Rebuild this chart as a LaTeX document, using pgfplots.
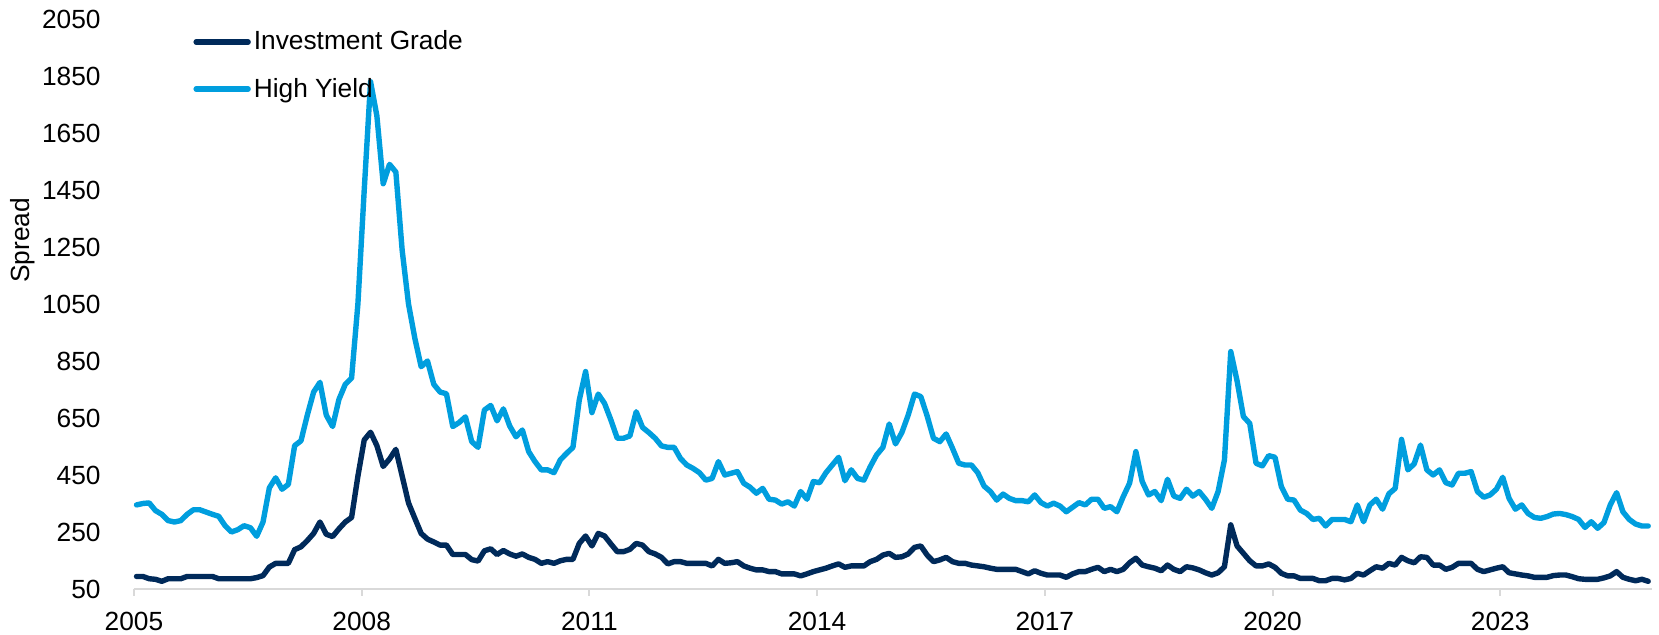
\documentclass[border=0pt]{standalone}
\usepackage{fontspec}
\setmainfont{Liberation Sans}
\usepackage{pgfplots}
\usepackage{pgfplotstable}
\pgfplotsset{compat=1.18}
\definecolor{igcol}{RGB}{0,42,90}
\definecolor{hycol}{RGB}{0,158,222}
\definecolor{axgray}{RGB}{217,217,217}
\pgfplotstableread{
k ig hy
0 94 345
1 94 350
2 86 352
3 84 325
4 77 312
5 86 290
6 86 285
7 86 290
8 94 312
9 94 328
10 94 328
11 94 320
12 94 312
13 86 305
14 86 272
15 86 250
16 86 258
17 86 272
18 86 265
19 90 235
20 97 285
21 127 405
22 140 440
23 140 400
24 140 417
25 188 553
26 198 570
27 220 660
28 245 741
29 285 775
30 242 660
31 234 620
32 261 715
33 285 768
34 301 790
35 446 1050
36 573 1450
37 600 1830
38 553 1710
39 480 1472
40 506 1540
41 540 1513
42 446 1238
43 352 1050
44 298 930
45 245 830
46 225 850
47 215 768
48 204 741
49 204 735
50 171 620
51 171 634
52 171 654
53 153 567
54 148 547
55 184 678
56 191 694
57 171 640
58 185 682
59 173 622
60 165 584
61 173 608
62 161 532
63 154 497
64 140 468
65 146 468
66 140 458
67 149 503
68 154 526
69 154 547
70 210 713
71 236 813
72 201 669
73 245 734
74 236 701
75 208 643
76 181 579
77 181 579
78 189 587
79 210 672
80 204 617
81 181 599
82 173 579
83 161 552
84 138 547
85 146 547
86 146 508
87 140 485
88 140 473
89 140 458
90 140 432
91 131 438
92 154 497
93 140 450
94 142 456
95 146 462
96 131 421
97 123 407
98 117 386
99 117 403
100 111 365
101 111 362
102 103 348
103 103 356
104 103 341
105 96 392
106 103 365
107 111 427
108 117 423
109 123 458
110 131 485
111 138 512
112 126 430
113 131 468
114 131 438
115 131 432
116 146 479
117 154 520
118 169 547
119 175 629
120 161 559
121 163 599
122 173 660
123 196 734
124 201 725
125 169 657
126 146 579
127 152 567
128 161 594
129 146 544
130 140 491
131 140 485
132 134 485
133 131 458
134 128 411
135 123 392
136 119 362
137 119 383
138 119 368
139 119 360
140 111 360
141 103 356
142 114 380
143 105 353
144 99 341
145 99 351
146 99 341
147 91 321
148 103 337
149 111 353
150 111 345
151 119 365
152 126 365
153 111 333
154 119 339
155 111 321
156 119 374
157 142 421
158 158 532
159 134 427
160 128 380
161 123 392
162 114 360
163 134 435
164 119 376
165 111 368
166 128 400
167 124 376
168 117 392
169 107 365
170 99 333
171 107 392
172 128 503
173 275 883
174 201 780
175 175 655
176 149 631
177 131 491
178 131 482
179 138 518
180 126 512
181 105 409
182 96 365
183 96 362
184 87 327
185 87 315
186 87 294
187 79 298
188 79 271
189 87 294
190 87 294
191 82 294
192 87 286
193 105 345
194 99 286
195 114 345
196 128 365
197 123 330
198 140 384
199 134 403
200 161 575
201 149 468
202 142 489
203 163 555
204 161 468
205 134 450
206 134 468
207 119 423
208 126 415
209 140 456
210 140 456
211 140 462
212 119 392
213 111 372
214 117 380
215 123 400
216 128 442
217 107 368
218 103 330
219 99 345
220 96 315
221 91 301
222 91 298
223 91 304
224 97 313
225 99 315
226 99 311
227 93 304
228 86 294
229 84 266
230 84 286
231 84 263
232 89 283
233 96 345
234 111 388
235 91 321
236 84 294
237 79 278
238 84 271
239 77 271
}\spreads
\begin{document}
\begin{tikzpicture}
\useasboundingbox (0,0) rectangle (829.5pt,317.5pt);
\begin{axis}[
  at={(67pt,23pt)}, anchor=south west,
  scale only axis, width=759pt, height=285pt,
  xmin=-0.4, xmax=239.6, ymin=50, ymax=2050,
  clip=false,
  axis x line*=bottom, axis y line*=left,
  x axis line style={draw=axgray, line width=1pt, -},
  y axis line style={draw=none},
  xtick={-0.4,35.6,71.6,107.6,143.6,179.6,215.6},
  xticklabels={2005,2008,2011,2014,2017,2020,2023},
  ytick={50,250,...,2050},
  tick align=outside,
  major tick length=3.5pt,
  xtick style={draw=axgray, line width=1pt},
  ytick style={draw=none},
  /pgf/number format/assume math mode=true,
  /pgf/number format/set thousands separator={},
  tick label style={font=\fontsize{13.15pt}{15.8pt}\selectfont},
  yticklabel style={anchor=east, inner sep=0pt, xshift=-13pt},
  xticklabel style={anchor=north, inner sep=0pt, yshift=-8pt},
  ylabel={Spread},
  ylabel style={font=\fontsize{13.15pt}{15.8pt}\selectfont, at={(axis description cs:-0.0731,0.612)}, anchor=center},
  legend style={draw=none, fill=none, at={(axis description cs:0.0389,0.985)}, anchor=north west,
    font=\fontsize{13.15pt}{15.8pt}\selectfont, row sep=9.5pt, inner sep=0pt,
    nodes={inner sep=1.5pt}},
  legend cell align=left,
  legend image code/.code={\draw[#1, line cap=round] (0pt,0pt) -- (26pt,0pt);},
  every axis plot/.append style={line width=2.7pt, line join=round, line cap=round},
]
\addplot[igcol] table[x=k, y=ig] {\spreads};
\addlegendentry{Investment Grade}
\addplot[hycol] table[x=k, y=hy] {\spreads};
\addlegendentry{High Yield}
\end{axis}
\end{tikzpicture}
\end{document}
